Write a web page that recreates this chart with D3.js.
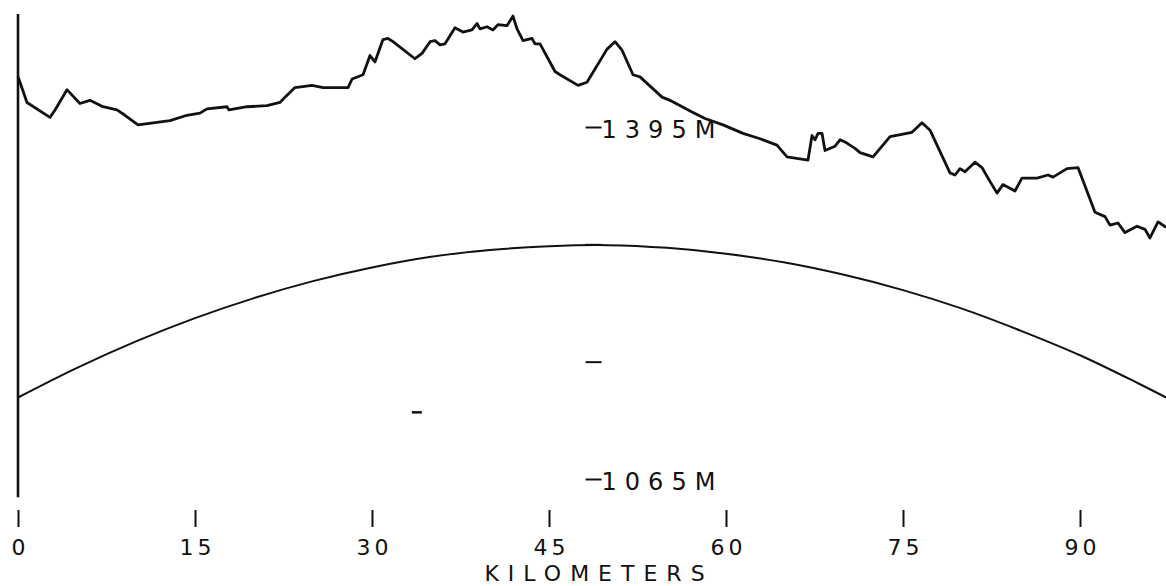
<!DOCTYPE html>
<html>
<head>
<meta charset="utf-8">
<script src="https://cdn.jsdelivr.net/npm/d3@7"></script>
<style>
  html, body { margin: 0; padding: 0; background: #fff; }
  svg { display: block; }
  text { font-family: "DejaVu Sans", "Liberation Sans", sans-serif; fill: #111; }
</style>
</head>
<body>
<svg id="chart" width="1166" height="586"></svg>
<script>
// ---- data ----
// terrain profile: distance (km) and elevation (m)
const profileKm = [0,0.17,0.76,2.71,3.14,4.15,5.25,6.10,7.20,8.39,9.07,10.17,12.88,14.32,15.42,16.02,17.71,17.88,19.41,21.10,22.20,22.63,23.47,24.92,25.85,27.97,28.31,29.24,29.83,30.25,30.93,31.36,31.78,33.64,34.24,34.92,35.34,35.76,36.19,37.03,37.71,38.47,38.90,39.15,39.75,40.25,40.68,41.44,41.95,42.29,42.80,43.56,43.81,44.24,45.51,45.93,47.46,48.22,49.92,50.59,51.19,52.12,52.71,54.58,55.25,57.12,58.22,59.75,61.44,62.88,64.32,65.17,66.95,67.29,67.54,67.80,68.14,68.39,69.24,69.66,70.08,70.93,71.36,72.46,73.90,75.76,76.61,77.29,78.98,79.41,79.83,80.25,81.10,81.69,82.37,82.97,83.47,84.49,85.08,86.36,87.29,87.71,88.90,89.83,91.27,92.12,92.54,93.22,93.81,94.83,95.51,95.93,96.61,97.29];
const profileM = [1442,1437,1418,1404,1411,1430,1417,1420,1414,1411,1406,1397,1401,1406,1408,1412,1414,1411,1414,1415,1418,1423,1432,1434,1432,1432,1440,1444,1462,1456,1477,1478,1475,1459,1464,1475,1476,1472,1473,1488,1484,1486,1492,1487,1489,1486,1491,1490,1499,1487,1476,1478,1473,1473,1447,1444,1434,1437,1468,1475,1467,1444,1442,1423,1420,1409,1403,1397,1389,1384,1378,1367,1364,1387,1383,1389,1389,1373,1377,1383,1381,1375,1371,1367,1386,1390,1399,1392,1352,1350,1356,1353,1362,1357,1344,1333,1341,1335,1347,1347,1350,1348,1356,1357,1315,1311,1303,1305,1296,1302,1299,1291,1306,1301];

// earth-curvature reference line
const curveKm = [0,5,10,15,20,25,30,35,40,45,50,55,60,65,70,75,80,85,90,95,97.3];
const curveM  = [1141.4,1169.2,1194,1215.8,1234.6,1250.5,1263.3,1273.3,1279.7,1283.2,1284.2,1281.7,1276.2,1267.9,1256.4,1242.1,1224.7,1203.9,1181,1154.3,1141.4];

// axis ticks and labels
const xTicks = [0,15,30,45,60,75,90];
const yTicks = [1395,1285,1175,1065];
const yLabelled = [1395,1065];
const yAxisKm = 48.1;            // where the elevation ticks stand
const strayMarks = [{km:33.8, m:1127.5}];
const xTitle = "KILOMETERS";

// ---- drawing ----
const svg = d3.select("#chart");
const x = d3.scaleLinear().domain([0, 90]).range([18, 1080]);
const y = d3.scaleLinear().domain([1065, 1395]).range([479, 127]);

// left vertical axis line
svg.append("line")
  .attr("x1", x(0)).attr("x2", x(0))
  .attr("y1", y(1501)).attr("y2", y(1048))
  .attr("stroke", "#111").attr("stroke-width", 2.6);

// earth curve
const curveData = curveKm.map((k, i) => ({k, m: curveM[i]}));
svg.append("path")
  .datum(curveData)
  .attr("fill", "none").attr("stroke", "#111").attr("stroke-width", 2)
  .attr("d", d3.line().x(d => x(d.k)).y(d => y(d.m)).curve(d3.curveCatmullRom));

// terrain profile
const profData = profileKm.map((k, i) => ({k, m: profileM[i]}));
svg.append("path")
  .datum(profData)
  .attr("fill", "none").attr("stroke", "#111").attr("stroke-width", 2.8)
  .attr("stroke-linejoin", "round")
  .attr("d", d3.line().x(d => x(d.k)).y(d => y(d.m)));

// elevation ticks
const yAxis = d3.axisRight(y)
  .tickValues(yTicks)
  .tickSize(16)
  .tickPadding(0)
  .tickFormat(d => yLabelled.includes(d) ? d + "M" : "");
const gy = svg.append("g").attr("transform", `translate(${x(yAxisKm)},0)`).call(yAxis);
gy.select(".domain").remove();
gy.selectAll(".tick line").attr("stroke", "#111").attr("stroke-width", 2);
gy.selectAll(".tick text")
  .style("font-size", "24px").style("letter-spacing", "8px")
  .attr("dy", "0.42em")
  .attr("fill", "#111");

// stray mark
svg.selectAll(".stray").data(strayMarks).enter().append("line")
  .attr("x1", d => x(d.km) - 5).attr("x2", d => x(d.km) + 5)
  .attr("y1", d => y(d.m)).attr("y2", d => y(d.m))
  .attr("stroke", "#111").attr("stroke-width", 2.5);

// x axis (ticks only)
const xAxis = d3.axisBottom(x).tickValues(xTicks).tickSize(17).tickPadding(12);
const gx = svg.append("g").attr("transform", "translate(0,510)").call(xAxis);
gx.select(".domain").remove();
gx.selectAll(".tick line").attr("stroke", "#111").attr("stroke-width", 2);
gx.selectAll(".tick text")
  .style("font-size", "22px").style("letter-spacing", "4px")
  .attr("dx", "2px").attr("fill", "#111");

// x title
svg.append("text")
  .attr("x", x(48.9) + 4).attr("y", 581)
  .attr("text-anchor", "middle")
  .style("font-size", "22px").style("letter-spacing", "9px")
  .text(xTitle);
</script>
</body>
</html>
